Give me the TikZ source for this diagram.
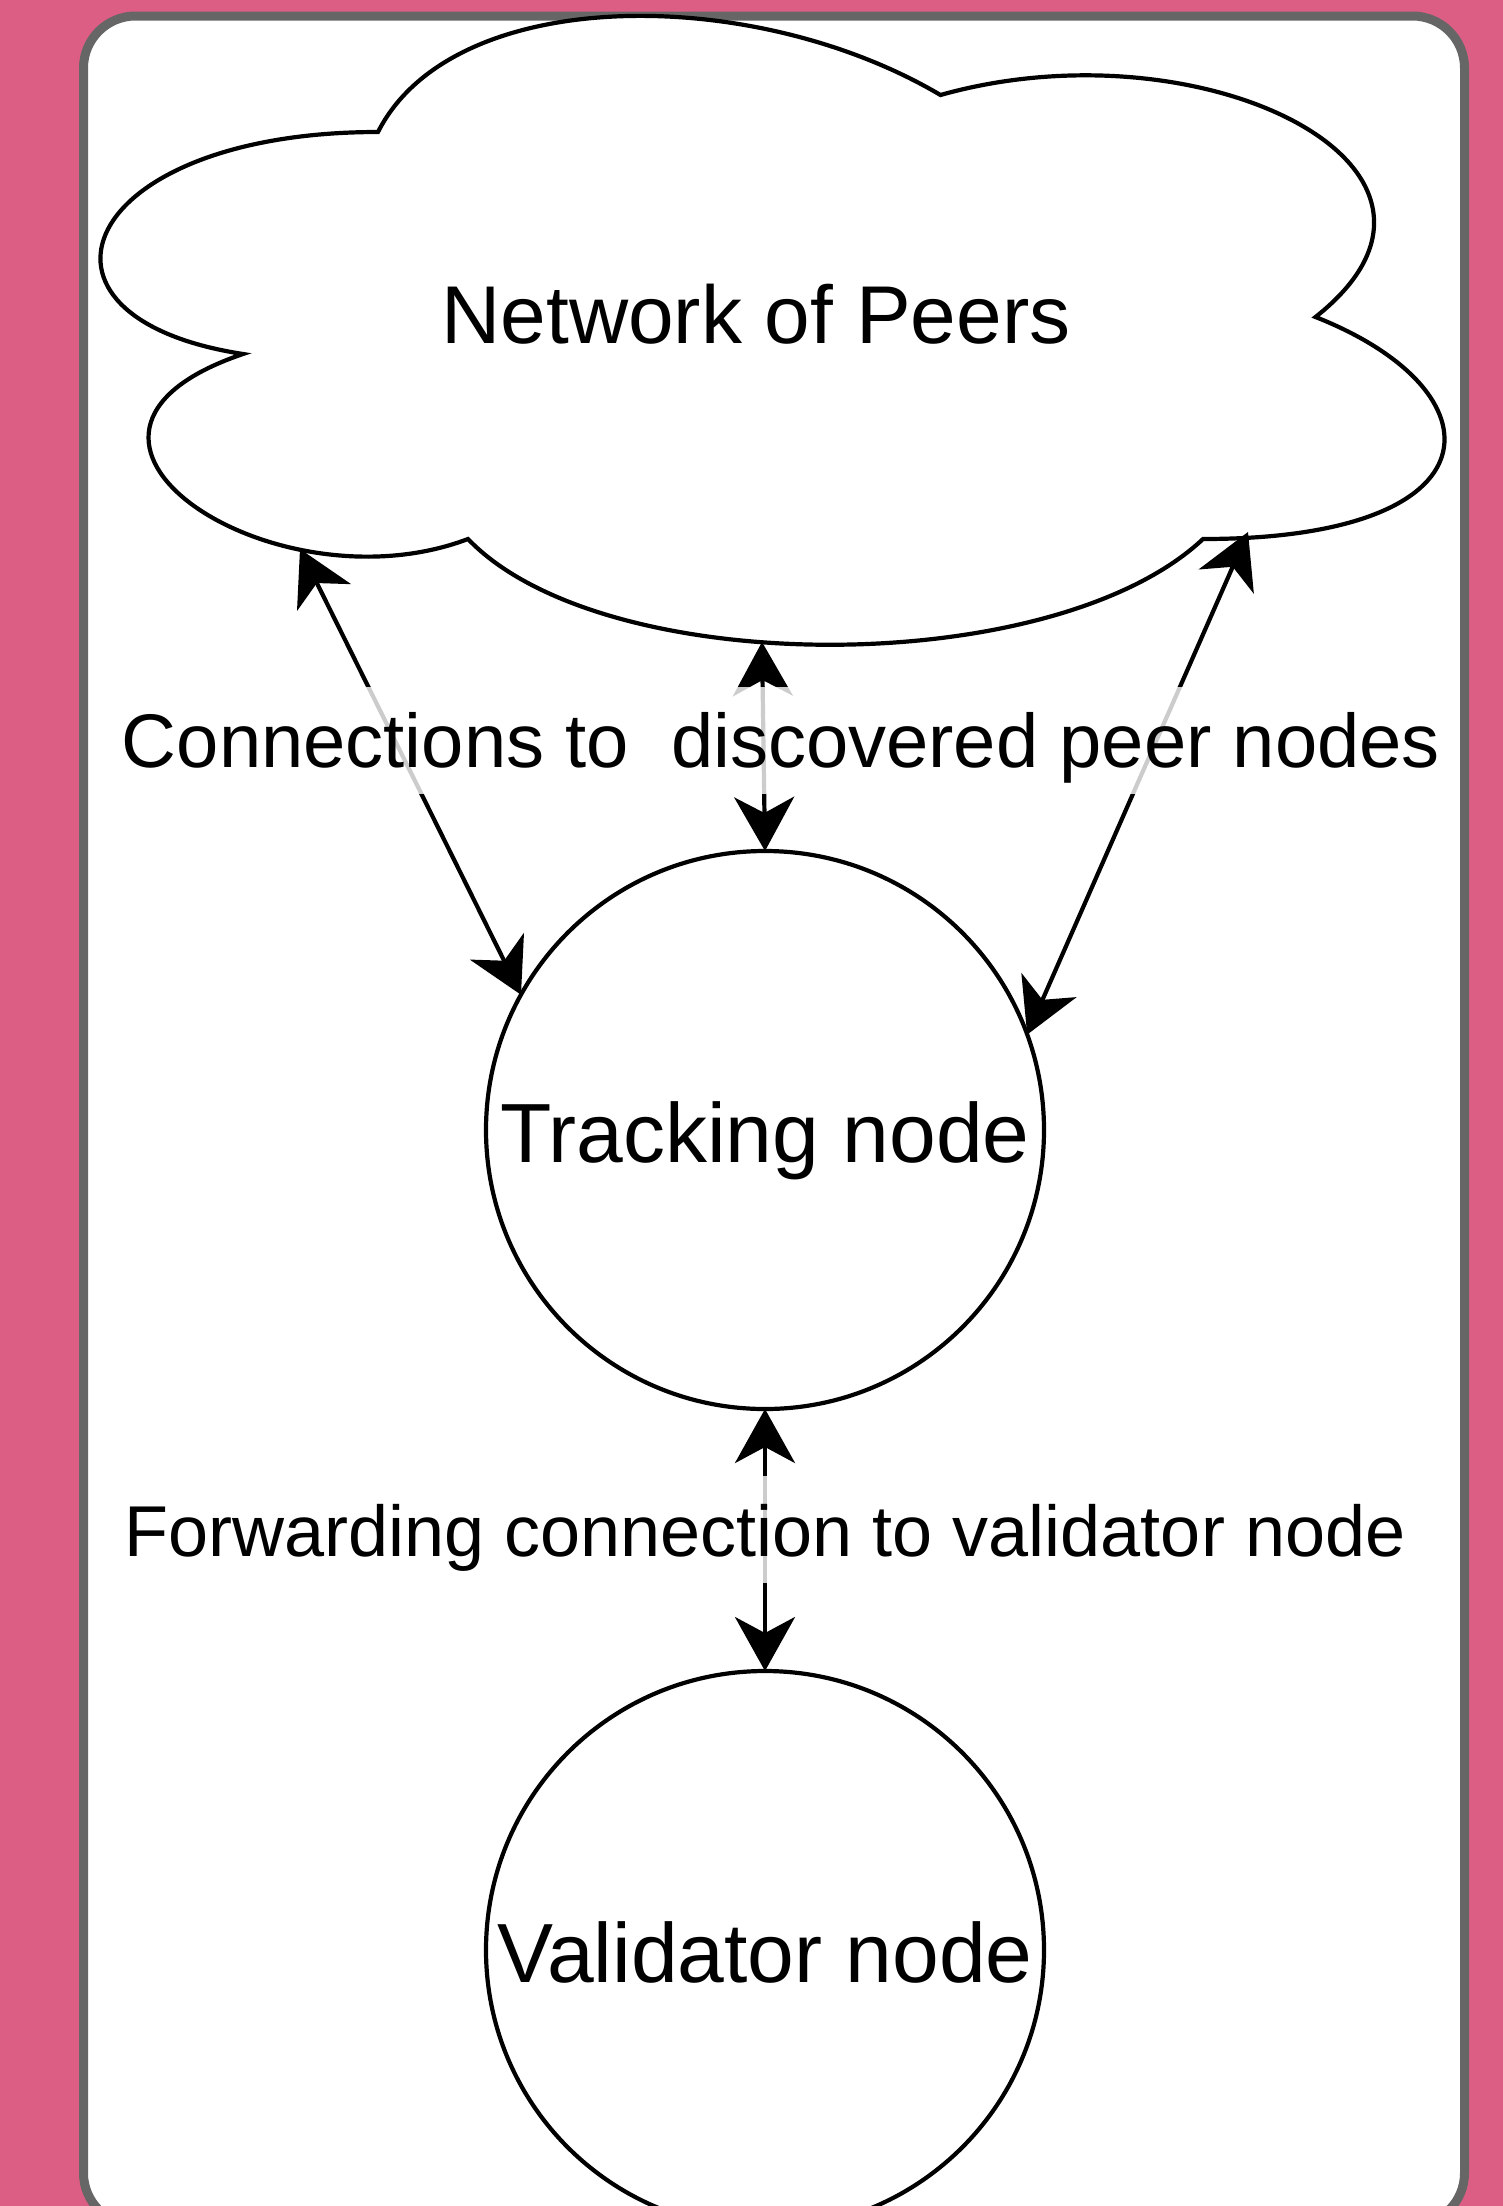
\documentclass[tikz,border=0pt]{standalone}
\usepackage{fontspec}
\setmainfont{Liberation Sans}
\usetikzlibrary{arrows.meta}
\definecolor{pinkbg}{RGB}{221,94,133}
\definecolor{framegray}{RGB}{102,102,102}
\begin{document}
\begin{tikzpicture}[x=0.5pt,y=-0.5pt,
  conn/.style={line width=2.1pt, draw=black, {Stealth[length=27pt,width=30pt,inset=8pt]}-{Stealth[length=27pt,width=30pt,inset=8pt]}},
  circnode/.style={circle, draw=black, line width=2.1pt, fill=white, minimum size=279pt, inner sep=0pt, outer sep=0pt, font=\fontsize{42}{50}\selectfont, text height=32pt, text depth=0pt},
  lbl/.style={fill=white, fill opacity=0.8, text opacity=1, inner sep=0pt, anchor=base, text height=40pt, text depth=13.5pt}
]
\useasboundingbox (0,0) rectangle (1503,2206);
\clip (0,0) rectangle (1503,2206);
\fill[pinkbg] (0,0) rectangle (1503,2206);
\draw[framegray, line width=4.5pt, fill=white, rounded corners=26pt] (83.5,16) rectangle (1464.5,2225);
% cloud
\draw[line width=2.1pt, fill=white] (378,132) .. controls (78,132) and (3,317) .. (243,354)
  .. controls (3,435.4) and (273,613) .. (468,539)
  .. controls (603,680) and (1053,680) .. (1203,539)
  .. controls (1503,539) and (1503,391) .. (1315.5,317)
  .. controls (1503,169) and (1203,21) .. (940.5,95)
  .. controls (753,-16) and (453,-16) .. (378,132) -- cycle;
\node[font=\fontsize{41}{49}\selectfont, anchor=base, inner sep=0pt] (cloudtext) at (756,343) {Network of Peers};
\coordinate (cL) at (300,549);
\coordinate (cM) at (762,642);
\coordinate (cR) at (1248,532);
% circles
\node[circnode] (track) at (765,1130) {Tracking node};
\node[circnode] (valid) at (765,1950) {Validator node};
% connectors
\draw[conn] (cL) -- (track.151);
\draw[conn] (cM) -- (track.north);
\draw[conn] (cR) -- (track.20);
\draw[conn] (track.south) -- (valid.north);
% labels
\node[lbl, font=\fontsize{38}{46}\selectfont] (lblA) at (781,767) {Connections to~ discovered peer nodes};
\node[lbl, font=\fontsize{36}{44}\selectfont] (lblB) at (765,1556) {Forwarding connection to validator node};
\end{tikzpicture}
\end{document}
